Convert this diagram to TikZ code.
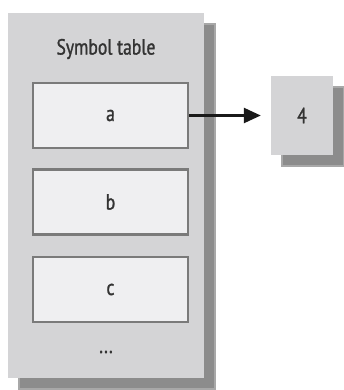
\documentclass[tikz,border=0pt]{standalone}
\usepackage{fontspec}
\setmainfont[FakeStretch=0.8,FakeBold=1.2]{PT Sans}
\usetikzlibrary{shadows,arrows.meta}
\definecolor{panelgray}{HTML}{D4D4D6}
\definecolor{shadowgray}{HTML}{8C8C8C}
\definecolor{shadowedge}{HTML}{A8A8A8}
\definecolor{boxfill}{HTML}{EFEFF1}
\definecolor{boxline}{HTML}{7A7A7A}
\definecolor{textgray}{HTML}{333333}
\begin{document}
\begin{tikzpicture}[x=1pt,y=-1pt,
  panel/.style={fill=panelgray, draw=none, inner sep=0pt,
    general shadow={shadow xshift=11pt, shadow yshift=-11pt, fill=shadowgray, draw=shadowedge, line width=2pt, opacity=1}},
  cell/.style={fill=boxfill, draw=boxline, line width=2.8pt, minimum width=155pt, minimum height=65pt, inner sep=0pt, text=textgray, font=\fontsize{22}{26}\selectfont},
  lbl/.style={text=textgray, font=\fontsize{22}{26}\selectfont, inner sep=0pt},
  link/.style={draw=black!90, line width=2.6pt, shorten >=10pt, -{Triangle[length=17pt,width=15pt]}}]
\useasboundingbox (0,0) rectangle (343,390);
\node[panel, minimum width=196pt, minimum height=365pt] (tbl) at (106,195.5) {};
\node[lbl] (title) at (106,49) {Symbol table};
\node[cell] (a) at (110.5,115.5) {a};
\node[cell] (b) at (110.5,202) {b};
\node[cell] (c) at (110.5,289.5) {c};
\node[lbl] (dots) at (106,352) {...};
\node[panel, minimum width=62pt, minimum height=78pt, lbl] (four) at (302,115.5) {4};
\draw[link] (a.east) -- (four.west);
\end{tikzpicture}
\end{document}
